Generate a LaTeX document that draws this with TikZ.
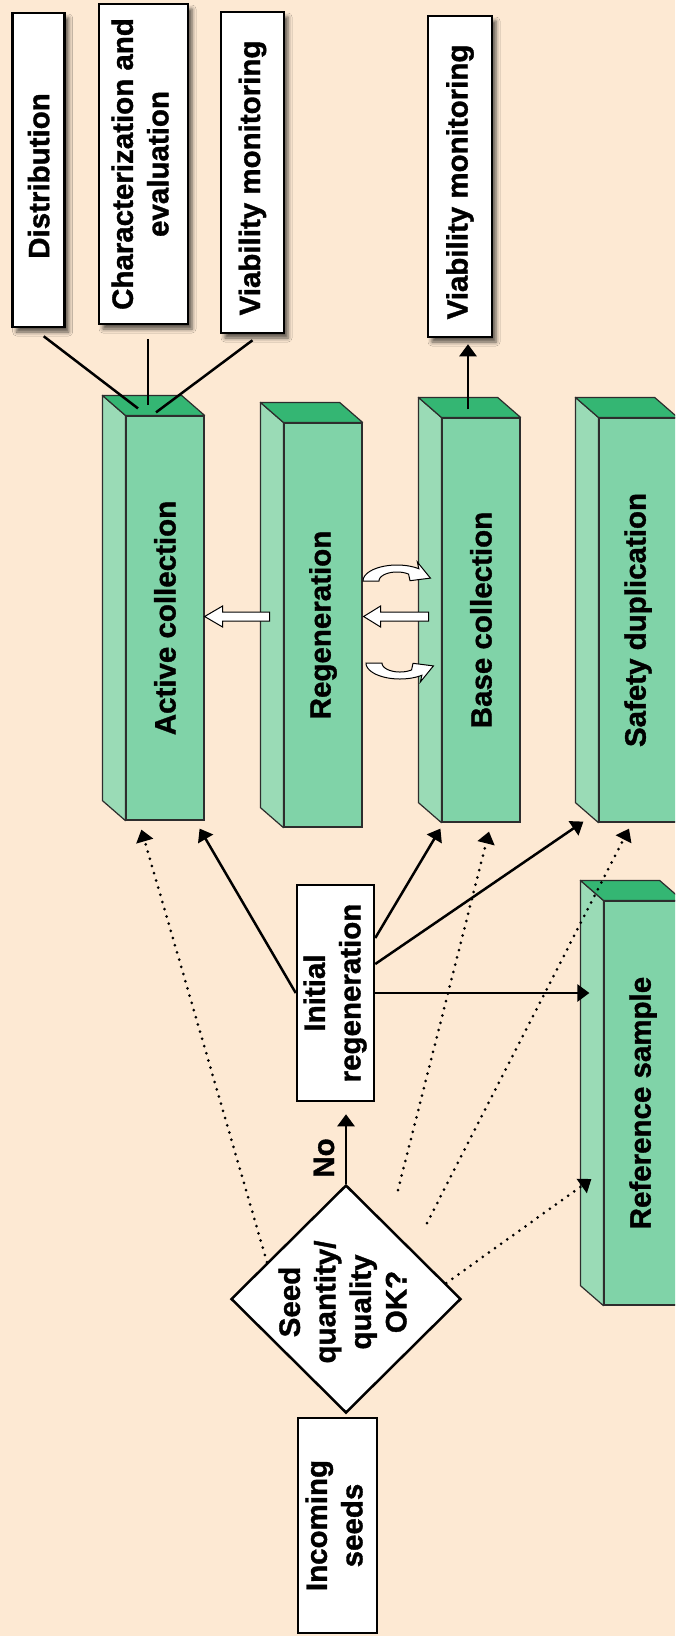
\documentclass[tikz,border=0pt]{standalone}
\usepackage{fontspec}
\setmainfont{Liberation Sans}[BoldFeatures={FakeBold=1.2}]
\usetikzlibrary{shapes.geometric,arrows.meta,calc,shadows.blur}
\definecolor{bg}{RGB}{253,233,211}
\definecolor{cfront}{RGB}{128,211,168}
\definecolor{cside}{RGB}{154,219,182}
\definecolor{ctop}{RGB}{52,182,115}
\definecolor{cedge}{RGB}{45,45,45}
\newcommand{\rt}[1]{\rotatebox{90}{\begin{tabular}{@{}c@{}}#1\end{tabular}}}
\newcommand{\threed}[1]{%
  \filldraw[sideface] (#1.north west) -- ++(-23,-20) -- ([shift={(-23,-20)}]#1.south west) -- (#1.south west) -- cycle;
  \filldraw[topface] (#1.north west) -- ++(-23,-20) -- ([shift={(-23,-20)}]#1.north east) -- (#1.north east) -- cycle;}
\begin{document}
\begin{tikzpicture}[x=1pt,y=-1pt,
  font=\fontsize{29.5}{35.5}\selectfont\bfseries,
  tbox/.style={draw=black, line width=2.5pt, fill=white, inner sep=0pt,
    blur shadow={shadow xshift=4pt, shadow yshift=-5pt, shadow blur radius=4pt, shadow opacity=65}},
  plainbox/.style={draw=black, line width=2.5pt, fill=white, inner sep=0pt},
  colfront/.style={draw=cedge, line width=1.2pt, fill=cfront, inner sep=0pt, minimum width=78pt, minimum height=404pt},
  sideface/.style={draw=cedge, line width=1.2pt, fill=cside, line join=round},
  topface/.style={draw=cedge, line width=1.2pt, fill=ctop, line join=round},
  decision/.style={diamond, draw=black, line width=2.5pt, fill=white, minimum width=230pt, minimum height=228pt, inner sep=0pt},
  link/.style={line width=2.5pt},
  conn/.style={line width=2.5pt, -{Triangle[width=17pt,length=12pt]}},
  dotconn/.style={line width=3pt, dash pattern=on 0pt off 7.5pt, line cap=round, -{Triangle[width=17pt,length=12pt]}},
  blockarrow/.style={draw=black, line width=1pt, fill=white, line join=miter}]
\useasboundingbox (0,0) rectangle (675,1636);
\clip (0,0) rectangle (675,1636);
\fill[bg] (0,0) rectangle (675,1636);

% top boxes
\node[tbox, minimum width=52pt, minimum height=314pt] (dist) at (38.7,170) {\rotatebox{90}{\hspace*{-12pt}Distribution}};
\node[tbox, minimum width=89pt, minimum height=320pt] (char) at (143.5,164) {\rt{Characterization and\\evaluation}};
\node[tbox, minimum width=63pt, minimum height=321pt] (via) at (252.5,172.5) {\rotatebox{90}{\hspace*{-11pt}Viability monitoring}};
\node[tbox, minimum width=64pt, minimum height=321pt] (vib) at (460,176.5) {\rotatebox{90}{\hspace*{-11pt}Viability monitoring}};

% columns
\node[colfront] (act) at (165,618) {\rotatebox{90}{Active collection}};
\threed{act}
\node[colfront] (reg) at (323,625) {\rotatebox{90}{Regeneration}};
\threed{reg}
\node[colfront] (base) at (481,620) {\rotatebox{90}{Base collection}};
\threed{base}
\node[colfront] (safe) at (638,620) {\rotatebox{90}{Safety duplication}};
\threed{safe}
\node[colfront] (ref) at (643,1103) {\rotatebox{90}{Reference sample}};
\threed{ref}

% flow boxes
\node[plainbox, minimum width=77pt, minimum height=216pt] (ir) at (335.5,993) {\rt{Initial\\regeneration}};
\node[plainbox, minimum width=79pt, minimum height=215pt] (inc) at (337.5,1525.5) {\rt{Incoming\\seeds}};
\node[decision] (dq) at (346,1299) {};
\node[inner sep=0pt] (dqt) at (346,1302) {\rt{Seed\\quantity/\\quality\\OK?}};
\node[inner sep=0pt] (no) at (324,1158) {\rotatebox{90}{No}};

% lines from top boxes
\draw[link] ([shift={(5,8)}]dist.south) -- ([shift={(-27,-7)}]act.north);
\draw[link] ([shift={(4.5,14)}]char.south) -- ([shift={(-17,-10)}]act.north);
\draw[link] ([shift={(0,6)}]via.south) -- ([shift={(-9,-3)}]act.north);
\draw[conn] ([shift={(-13,-8)}]base.north) -- ([shift={(8,6)}]vib.south);

% block arrows
\draw[blockarrow] ([shift={(0,-1.5)}]act.east) -- ++(18,-10.5) -- ++(0,6) -- ++(47,0) -- ++(0,9) -- ++(-47,0) -- ++(0,6) -- cycle;
\draw[blockarrow] ([shift={(1,-8.5)}]reg.east) -- ++(17,-10.5) -- ++(0,6) -- ++(48,0) -- ++(0,9) -- ++(-48,0) -- ++(0,6) -- cycle;
% curved block arrows
\draw[blockarrow] plot[domain=180:310,samples=30] ({397+34*cos(\x)},{581+16*sin(\x)}) -- (417.4,562.1) -- (430.4,578.1) -- (410,580.7) -- plot[domain=310:180,samples=30] ({397+18*cos(\x)},{581+9*sin(\x)}) -- cycle;
\draw[blockarrow] plot[domain=180:50,samples=30] ({400+34*cos(\x)},{663+16*sin(\x)}) -- (420.4,681.9) -- (433.4,665.9) -- (413,663.3) -- plot[domain=50:180,samples=30] ({400+18*cos(\x)},{663+9*sin(\x)}) -- cycle;

% connectors
\draw[conn, shorten >=12pt] (dq.north) -- (dq.north |- ir.south);
\draw[conn] (ir.west) -- ([shift={(-5,8)}]act.south east);
\draw[conn] ([shift={(0,-55)}]ir.east) -- ([shift={(-1,6)}]base.south west);
\draw[conn] ([shift={(0,-29)}]ir.east) -- ([shift={(-15,-1)}]safe.south west);
\draw[conn, shorten >=14pt] (ir.east) -- (ir.east -| ref.west);

\coordinate (fb) at (398,1190);
\coordinate (fs) at (427,1223);
\draw[dotconn] (dq.155) -- ([shift={(16,9)}]act.south west);
\draw[dotconn] (fb) -- ([shift={(8,9)}]base.south);
\draw[dotconn] (fs) -- ([shift={(-9,6)}]safe.south);
\draw[dotconn] (dq.9) -- ([shift={(-12,76)}]ref.west);
\end{tikzpicture}
\end{document}
